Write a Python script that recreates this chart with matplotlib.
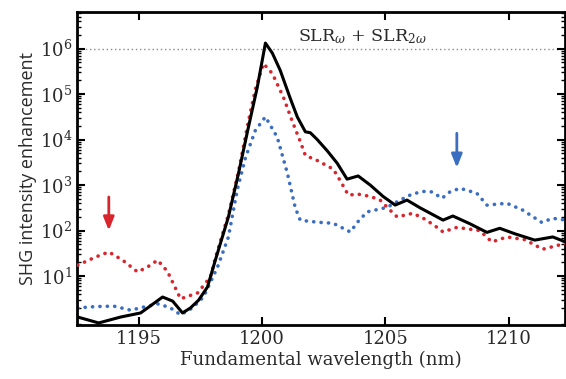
import numpy as np
import matplotlib
matplotlib.use("Agg")
import matplotlib.pyplot as plt
from matplotlib.ticker import LogLocator, NullFormatter, FixedLocator

plt.rcParams['mathtext.fontset'] = 'dejavuserif'

# curve values (wavelength in nm, log10 of enhancement)
wl_total = [1192.53, 1193.38, 1194.27, 1195.08, 1195.49, 1195.97, 1196.38, 1196.78,
            1197.10, 1197.43, 1197.79, 1198.11, 1198.64, 1199.05, 1199.45, 1199.81,
            1200.14, 1200.42, 1200.74, 1201.15, 1201.43, 1201.76, 1201.96, 1202.24,
            1202.65, 1203.05, 1203.45, 1203.90, 1204.39, 1204.91, 1205.40, 1205.88,
            1206.41, 1207.34, 1207.74, 1208.43, 1209.12, 1209.64, 1210.25, 1211.06,
            1211.79, 1212.31]
log_total = [0.10, -0.03, 0.10, 0.19, 0.35, 0.54, 0.45, 0.19,
             0.30, 0.47, 0.76, 1.35, 2.30, 3.26, 4.27, 5.15,
             6.12, 5.90, 5.52, 4.90, 4.50, 4.17, 4.15, 4.00,
             3.75, 3.48, 3.13, 3.20, 3.00, 2.75, 2.56, 2.67,
             2.50, 2.23, 2.32, 2.15, 1.96, 2.05, 1.93, 1.79,
             1.86, 1.75]

wl_red = [1192.53, 1193.26, 1193.79, 1194.35, 1194.96, 1195.36, 1195.77, 1196.17,
          1196.70, 1197.39, 1197.91, 1198.11, 1198.64, 1199.05, 1199.45, 1199.73,
          1200.06, 1200.42, 1200.87, 1201.23, 1201.55, 1201.76, 1202.24, 1202.89,
          1203.17, 1203.50, 1203.90, 1204.39, 1204.79, 1205.19, 1205.48, 1206.12,
          1206.61, 1207.10, 1207.34, 1207.90, 1208.83, 1209.32, 1209.93, 1210.66,
          1211.38, 1212.31]
log_red = [1.24, 1.42, 1.53, 1.35, 1.09, 1.20, 1.35, 1.10,
           0.50, 0.63, 0.98, 1.40, 2.35, 3.30, 4.40, 5.10,
           5.67, 5.45, 4.93, 4.40, 3.96, 3.65, 3.54, 3.35,
           3.10, 2.78, 2.80, 2.75, 2.67, 2.45, 2.30, 2.38,
           2.25, 2.07, 1.97, 2.07, 2.00, 1.75, 1.86, 1.80,
           1.59, 1.72]

wl_blue = [1192.53, 1193.26, 1193.99, 1194.68, 1195.28, 1195.81, 1196.29, 1196.70,
           1197.18, 1197.63, 1198.20, 1198.64, 1199.00, 1199.33, 1199.73, 1200.14,
           1200.62, 1201.03, 1201.35, 1201.55, 1201.96, 1202.36, 1202.89, 1203.29,
           1203.58, 1203.90, 1204.26, 1205.07, 1205.60, 1206.08, 1206.53, 1206.89,
           1207.30, 1207.62, 1208.03, 1208.71, 1209.12, 1209.93, 1210.57, 1211.34,
           1211.79, 1212.31]
log_blue = [0.30, 0.33, 0.34, 0.25, 0.33, 0.39, 0.30, 0.15,
            0.30, 0.54, 1.20, 1.86, 2.90, 3.60, 4.20, 4.50,
            4.05, 3.26, 2.50, 2.23, 2.20, 2.18, 2.16, 2.05,
            1.97, 2.20, 2.41, 2.51, 2.67, 2.80, 2.86, 2.85,
            2.71, 2.85, 2.93, 2.82, 2.56, 2.60, 2.45, 2.18,
            2.27, 2.23]

x_ticks = [1195, 1200, 1205, 1210]
y_ticks = [1e1, 1e2, 1e3, 1e4, 1e5, 1e6]

fig = plt.figure(figsize=(5.66, 3.79), dpi=100)
ax = fig.add_axes([0.136, 0.143, 0.862, 0.825])

red = '#d8262f'
blue = '#3b6ec0'
txt = '#2a2a2a'

ax.axhline(1e6, color='#8a8a8a', lw=1.0, ls=(0, (1, 2)), zorder=1)
ax.plot(wl_blue, 10 ** np.array(log_blue), color=blue, lw=2.6,
        ls=(0, (0.05, 2.0)), dash_capstyle='round', zorder=2)
ax.plot(wl_red, 10 ** np.array(log_red), color=red, lw=2.6,
        ls=(0, (0.05, 2.0)), dash_capstyle='round', zorder=3)
ax.plot(wl_total, 10 ** np.array(log_total), color='black', lw=2.2, zorder=4)

ax.text(1201.45, 10 ** 6.27, r'SLR$_{\omega}$ + SLR$_{2\omega}$', fontsize=12.5,
        family='DejaVu Serif', ha='left', va='center', color=txt)

# arrows
ax.annotate('', xy=(1193.79, 10 ** 1.94), xytext=(1193.79, 10 ** 2.8),
            arrowprops=dict(arrowstyle='-|>,head_length=0.8,head_width=0.32',
                            color=red, lw=2.0))
ax.annotate('', xy=(1207.9, 10 ** 3.32), xytext=(1207.9, 10 ** 4.2),
            arrowprops=dict(arrowstyle='-|>,head_length=0.8,head_width=0.32',
                            color=blue, lw=2.0))

ax.set_yscale('log')
ax.set_xlim(1192.5, 1212.28)
ax.set_ylim(0.85, 10 ** 6.8)

ax.xaxis.set_major_locator(FixedLocator(x_ticks))
ax.yaxis.set_major_locator(FixedLocator(y_ticks))
ax.yaxis.set_minor_locator(LogLocator(base=10, subs=np.arange(2, 10), numticks=20))
ax.yaxis.set_minor_formatter(NullFormatter())

ax.tick_params(which='both', direction='in', top=True, right=True)
ax.tick_params(which='major', length=6, width=1.5, labelsize=13, labelcolor=txt)
ax.tick_params(which='minor', length=3, width=1.0)
for lab in ax.get_xticklabels() + ax.get_yticklabels():
    lab.set_family('DejaVu Serif')

for s in ax.spines.values():
    s.set_linewidth(2.0)

ax.set_xlabel('Fundamental wavelength (nm)', fontsize=13, family='DejaVu Serif',
              labelpad=2, color=txt)
ax.set_ylabel('SHG intensity enhancement', fontsize=13, family='Open Sans',
              labelpad=2, color=txt)

fig.savefig('out.png', dpi=100)
